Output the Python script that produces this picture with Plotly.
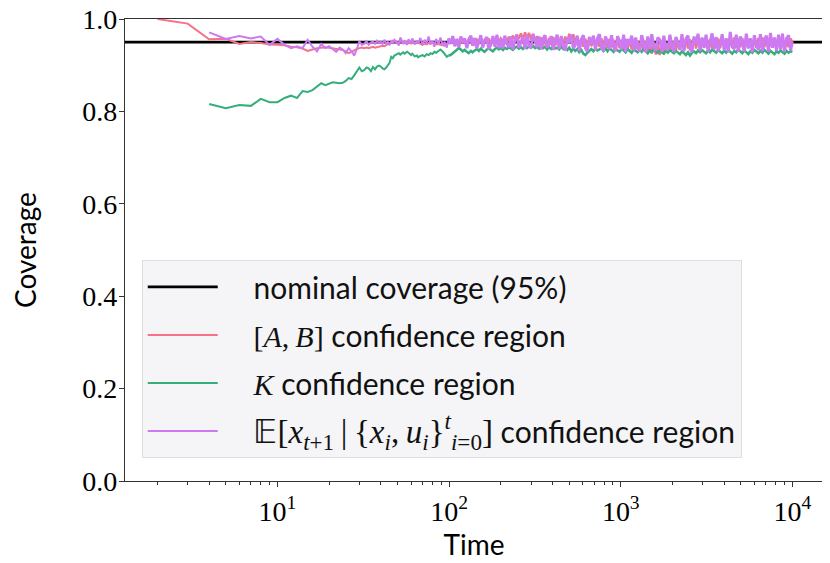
import plotly.graph_objects as go

# ---------------- data ----------------
NOMINAL = 0.95

t_ab_early = [2, 3, 4, 5, 6, 7, 8, 9, 10, 11, 12, 13, 14, 15, 16, 17, 18, 19, 20, 21,
              22, 23, 24, 25, 26, 27, 28, 29, 30, 31, 32, 33, 34, 35, 36, 37, 38, 39]
ab_early = [1.000, 0.990, 0.956, 0.957, 0.946, 0.950, 0.948, 0.945, 0.944, 0.943,
            0.940, 0.939, 0.936, 0.931, 0.934, 0.937, 0.938, 0.939, 0.938, 0.937,
            0.936, 0.935, 0.933, 0.930, 0.926, 0.929, 0.933, 0.935, 0.937, 0.938,
            0.937, 0.938, 0.937, 0.939, 0.940, 0.938, 0.939, 0.940]

t_k_early = [4, 5, 6, 7, 8, 9, 10, 11, 12, 13, 14, 15, 16, 17, 18, 19, 20, 21,
             22, 23, 24, 25, 26, 27, 28, 29, 30, 31, 32, 33, 34, 35, 36, 37, 38, 39]
k_early = [0.816, 0.807, 0.814, 0.812, 0.827, 0.820, 0.820, 0.829, 0.834, 0.829,
           0.844, 0.842, 0.846, 0.853, 0.861, 0.857, 0.860, 0.863, 0.862, 0.861,
           0.862, 0.866, 0.872, 0.870, 0.878, 0.886, 0.895, 0.887, 0.889, 0.895,
           0.893, 0.887, 0.896, 0.891, 0.897, 0.899]

t_e_early = t_k_early
e_early = [0.971, 0.957, 0.963, 0.958, 0.962, 0.944, 0.957, 0.944, 0.937, 0.941,
           0.937, 0.955, 0.940, 0.930, 0.946, 0.937, 0.941, 0.935, 0.929, 0.938,
           0.934, 0.926, 0.937, 0.930, 0.921, 0.935, 0.952, 0.944, 0.946, 0.952,
           0.944, 0.949, 0.951, 0.946, 0.953, 0.948]

# times 40..99 (shared by the three series)
t_mid = [40, 41, 42, 43, 44, 45, 46, 47, 48, 50,
         51, 52, 54, 55, 57, 58, 60, 61, 63, 65,
         66, 68, 70, 72, 74, 76, 78, 80, 82, 84,
         87, 89, 92, 94, 97, 99]
ab_mid = [0.940, 0.942, 0.941, 0.944, 0.946, 0.945, 0.950, 0.953, 0.951, 0.950,
          0.949, 0.952, 0.950, 0.948, 0.951, 0.949, 0.947, 0.950, 0.948, 0.951,
          0.949, 0.946, 0.944, 0.947, 0.945, 0.948, 0.946, 0.949, 0.947, 0.945,
          0.946, 0.944, 0.943, 0.942, 0.944, 0.948]
k_mid = [0.897, 0.893, 0.891, 0.895, 0.899, 0.905, 0.918, 0.915, 0.921, 0.924,
         0.926, 0.923, 0.928, 0.925, 0.929, 0.927, 0.922, 0.925, 0.919, 0.921,
         0.917, 0.920, 0.922, 0.919, 0.924, 0.922, 0.926, 0.924, 0.929, 0.927,
         0.931, 0.934, 0.929, 0.924, 0.918, 0.921]
e_mid = [0.951, 0.946, 0.955, 0.947, 0.950, 0.944, 0.952, 0.948, 0.955, 0.947,
         0.943, 0.960, 0.946, 0.952, 0.944, 0.956, 0.948, 0.958, 0.945, 0.953,
         0.947, 0.959, 0.944, 0.955, 0.949, 0.962, 0.945, 0.953, 0.940, 0.957,
         0.946, 0.960, 0.942, 0.951, 0.938, 0.958]

# times 102..10000, where the curves become a dense noisy band
t_dense = [102, 105, 108, 111,
           114, 117, 120, 123, 127, 130, 134, 137, 141, 145,
           149, 153, 157, 161, 166, 170, 175, 180, 185, 190,
           195, 200, 206, 211, 217, 223, 229, 235, 242, 248,
           255, 262, 269, 277, 284, 292, 300, 308, 317, 325,
           334, 343, 353, 362, 372, 382, 393, 404, 415, 426,
           438, 450, 462, 475, 488, 501, 515, 529, 543, 558,
           573, 589, 605, 622, 639, 656, 674, 693, 712, 731,
           751, 772, 793, 815, 837, 860, 883, 908, 932, 958,
           984, 1011, 1039, 1067, 1096, 1126, 1157, 1189, 1221, 1255,
           1289, 1324, 1360, 1398, 1436, 1475, 1516, 1557, 1600, 1643,
           1688, 1735, 1782, 1831, 1881, 1932, 1985, 2039, 2095, 2152,
           2211, 2272, 2334, 2398, 2463, 2531, 2600, 2671, 2744, 2819,
           2896, 2975, 3057, 3140, 3226, 3314, 3405, 3498, 3594, 3692,
           3793, 3897, 4003, 4113, 4225, 4341, 4459, 4581, 4707, 4835,
           4967, 5103, 5243, 5386, 5533, 5685, 5840, 6000, 6164, 6333,
           6506, 6684, 6866, 7054, 7247, 7445, 7649, 7858, 8073, 8294,
           8520, 8753, 8993, 9239, 9491, 9751, 10000]

ab_dense = [0.952, 0.955, 0.951, 0.954,
            0.950, 0.955, 0.949, 0.954, 0.948, 0.956, 0.950, 0.953, 0.947, 0.955,
            0.949, 0.957, 0.946, 0.955, 0.950, 0.958, 0.947, 0.956, 0.951, 0.959,
            0.948, 0.958, 0.952, 0.960, 0.949, 0.962, 0.953, 0.964, 0.955, 0.966,
            0.957, 0.969, 0.956, 0.971, 0.958, 0.970, 0.955, 0.968, 0.952, 0.963,
            0.945, 0.960, 0.943, 0.958, 0.941, 0.959, 0.944, 0.961, 0.942, 0.958,
            0.944, 0.960, 0.946, 0.962, 0.950, 0.968, 0.952, 0.967, 0.948, 0.962,
            0.942, 0.959, 0.940, 0.957, 0.938, 0.958, 0.941, 0.956, 0.939, 0.957,
            0.940, 0.958, 0.938, 0.956, 0.937, 0.957, 0.939, 0.955, 0.936, 0.956,
            0.937, 0.955, 0.935, 0.957, 0.936, 0.954, 0.934, 0.956, 0.935, 0.953,
            0.933, 0.954, 0.931, 0.952, 0.928, 0.950, 0.925, 0.948, 0.923, 0.946,
            0.922, 0.945, 0.924, 0.948, 0.927, 0.950, 0.930, 0.952, 0.932, 0.954,
            0.934, 0.955, 0.935, 0.957, 0.936, 0.956, 0.937, 0.958, 0.936, 0.957,
            0.938, 0.958, 0.937, 0.959, 0.938, 0.957, 0.937, 0.959, 0.938, 0.958,
            0.937, 0.960, 0.938, 0.958, 0.939, 0.959, 0.937, 0.960, 0.938, 0.958,
            0.939, 0.959, 0.937, 0.960, 0.938, 0.958, 0.939, 0.961, 0.937, 0.959,
            0.938, 0.960, 0.939, 0.958, 0.937, 0.960, 0.938, 0.959, 0.939, 0.960,
            0.938, 0.959, 0.937, 0.960, 0.939, 0.958, 0.949]

k_dense = [0.922, 0.926, 0.930, 0.933,
           0.937, 0.934, 0.930, 0.933, 0.929, 0.926, 0.931, 0.928, 0.932, 0.935,
           0.931, 0.936, 0.932, 0.929, 0.934, 0.937, 0.933, 0.930, 0.935, 0.938,
           0.934, 0.937, 0.933, 0.938, 0.935, 0.939, 0.936, 0.933, 0.938, 0.940,
           0.936, 0.939, 0.935, 0.940, 0.937, 0.941, 0.938, 0.942, 0.937, 0.940,
           0.936, 0.942, 0.937, 0.940, 0.934, 0.939, 0.935, 0.941, 0.936, 0.938,
           0.934, 0.940, 0.935, 0.939, 0.933, 0.938, 0.930, 0.936, 0.931, 0.935,
           0.928, 0.933, 0.925, 0.922, 0.927, 0.932, 0.935, 0.930, 0.936, 0.932,
           0.934, 0.938, 0.931, 0.936, 0.930, 0.937, 0.933, 0.929, 0.935, 0.931,
           0.929, 0.936, 0.932, 0.928, 0.935, 0.930, 0.927, 0.934, 0.931, 0.928,
           0.933, 0.929, 0.935, 0.930, 0.926, 0.932, 0.928, 0.934, 0.930, 0.927,
           0.932, 0.929, 0.925, 0.931, 0.927, 0.933, 0.929, 0.926, 0.931, 0.928,
           0.924, 0.930, 0.926, 0.922, 0.928, 0.921, 0.927, 0.930, 0.926, 0.932,
           0.928, 0.933, 0.929, 0.926, 0.932, 0.928, 0.934, 0.930, 0.927, 0.933,
           0.929, 0.926, 0.931, 0.927, 0.933, 0.929, 0.925, 0.931, 0.928, 0.934,
           0.930, 0.926, 0.932, 0.928, 0.924, 0.930, 0.927, 0.933, 0.929, 0.926,
           0.931, 0.927, 0.933, 0.929, 0.925, 0.931, 0.928, 0.924, 0.930, 0.927,
           0.932, 0.928, 0.925, 0.931, 0.927, 0.930, 0.929]

e_dense = [0.946, 0.963, 0.941, 0.957,
           0.939, 0.962, 0.950, 0.958, 0.937, 0.955, 0.964, 0.942, 0.959, 0.936,
           0.949, 0.965, 0.938, 0.953, 0.961, 0.935, 0.944, 0.963, 0.940, 0.966,
           0.937, 0.957, 0.936, 0.964, 0.946, 0.939, 0.962, 0.934, 0.955, 0.966,
           0.938, 0.948, 0.961, 0.935, 0.965, 0.943, 0.937, 0.967, 0.951, 0.939,
           0.962, 0.934, 0.957, 0.965, 0.938, 0.946, 0.963, 0.933, 0.952, 0.966,
           0.935, 0.963, 0.941, 0.932, 0.960, 0.949, 0.966, 0.936, 0.944, 0.964,
           0.931, 0.955, 0.965, 0.937, 0.930, 0.961, 0.946, 0.964, 0.933, 0.958,
           0.967, 0.938, 0.931, 0.962, 0.949, 0.935, 0.965, 0.940, 0.930, 0.963,
           0.952, 0.934, 0.966, 0.929, 0.957, 0.944, 0.964, 0.932, 0.960, 0.938,
           0.930, 0.965, 0.947, 0.928, 0.962, 0.936, 0.967, 0.941, 0.931, 0.960,
           0.955, 0.929, 0.964, 0.938, 0.932, 0.966, 0.944, 0.929, 0.961, 0.950,
           0.933, 0.967, 0.930, 0.957, 0.964, 0.935, 0.929, 0.962, 0.946, 0.968,
           0.931, 0.960, 0.938, 0.966, 0.929, 0.953, 0.969, 0.934, 0.961, 0.930,
           0.945, 0.967, 0.932, 0.958, 0.928, 0.972, 0.940, 0.935, 0.966, 0.929,
           0.962, 0.949, 0.930, 0.968, 0.936, 0.958, 0.928, 0.965, 0.943, 0.933,
           0.967, 0.930, 0.955, 0.964, 0.929, 0.970, 0.938, 0.960, 0.931, 0.966,
           0.934, 0.968, 0.929, 0.957, 0.965, 0.932, 0.950]

x_tick_vals = [10, 100, 1000, 10000]
x_tick_text = ["10<sup>1</sup>", "10<sup>2</sup>", "10<sup>3</sup>", "10<sup>4</sup>"]
y_tick_vals = [0.0, 0.2, 0.4, 0.6, 0.8, 1.0]
y_tick_text = ["0.0", "0.2", "0.4", "0.6", "0.8", "1.0"]

X_RANGE_LOG = [0.112, 4.178]
Y_RANGE = [0.0, 1.0]

# ---------------- style ----------------
C_AB = "#f77189"
C_K = "#35ae7c"
C_E = "#cc79f2"
SERIF = "Liberation Serif"
SANS = "Lato"
PAD = "\u00a0\u00a0\u00a0\u00a0"

names = {
    "nom": PAD + "nominal coverage (95%)",
    "ab": PAD + f'<span style="font-family:{SERIF}">[<i>A</i>,\u2009<i>B</i>]</span> confidence region',
    "k": PAD + f'<span style="font-family:{SERIF}"><i>K</i></span> confidence region',
    "e": PAD + (f'<span style="font-family:{SERIF};font-size:33px">𝔼[<i>x</i><sub><i>t</i>+1</sub>\u2009|\u2009'
                f'{{<i>x</i><sub><i>i</i></sub>,\u2009<i>u</i><sub><i>i</i></sub>}}'
                f'<sup><i>t</i></sup><sub><i>i</i>=0</sub>]</span> confidence region'),
}

fig = go.Figure()
fig.add_trace(go.Scatter(
    x=[10 ** X_RANGE_LOG[0], 10 ** X_RANGE_LOG[1]], y=[NOMINAL, NOMINAL],
    mode="lines", line=dict(color="black", width=2.6), name=names["nom"],
    legendgroup="a"))

series = [
    ("b", names["ab"], C_AB, t_ab_early, ab_early, ab_mid, ab_dense, 2.4),
    ("c", names["k"], C_K, t_k_early, k_early, k_mid, k_dense, 2.5),
    ("d", names["e"], C_E, t_e_early, e_early, e_mid, e_dense, 3.0),
]
for grp, name, col, t_e, v_e, v_m, v_d, dense_w in series:
    fig.add_trace(go.Scatter(
        x=t_e + t_mid, y=v_e + v_m, mode="lines",
        line=dict(color=col, width=2.0), name=name, legendgroup=grp))
    # dense, noisy part of the same series (continues from its last point)
    fig.add_trace(go.Scatter(
        x=t_mid[-1:] + t_dense, y=v_m[-1:] + v_d, mode="lines",
        line=dict(color=col, width=dense_w), name=name, legendgroup=grp,
        showlegend=False))

axis_common = dict(showline=True, linecolor="#333333", linewidth=1.1, mirror=True,
                   ticks="outside", ticklen=5, tickwidth=1, tickcolor="#333333",
                   showgrid=False, zeroline=False, ticklabeloverflow="allow")

# the page body has an 8px default margin, so the figure is sized to fit the window
fig.update_layout(
    width=822, height=555,
    margin=dict(l=117, r=7, t=11, b=82),
    paper_bgcolor="white", plot_bgcolor="white",
    showlegend=True,
    legend=dict(
        x=0.024, y=0.050, xanchor="left", yanchor="bottom",
        bgcolor="#f5f5f7", bordercolor="#dedede", borderwidth=1,
        font=dict(family=SANS, size=30, color="#111111"),
        traceorder="grouped", tracegroupgap=6, itemwidth=70,
    ),
    xaxis=dict(type="log", range=X_RANGE_LOG, tickmode="array",
               tickvals=x_tick_vals, ticktext=x_tick_text,
               tickfont=dict(family=SERIF, size=28, color="black"),
               minor=dict(ticks="outside", ticklen=3, dtick="D1",
                          tickcolor="#333333", tickwidth=0.8, showgrid=False),
               title=dict(text="Time", font=dict(family=SANS, size=28, color="black"),
                          standoff=0),
               automargin=False, **axis_common),
    yaxis=dict(range=Y_RANGE, tickmode="array", tickvals=y_tick_vals,
               ticktext=y_tick_text, ticklabelstandoff=-4,
               tickfont=dict(family=SERIF, size=28, color="black"),
               title=dict(text="Coverage", font=dict(family=SANS, size=28, color="black"),
                          standoff=46),
               automargin=False, **axis_common),
)

fig.write_html("out.html")
